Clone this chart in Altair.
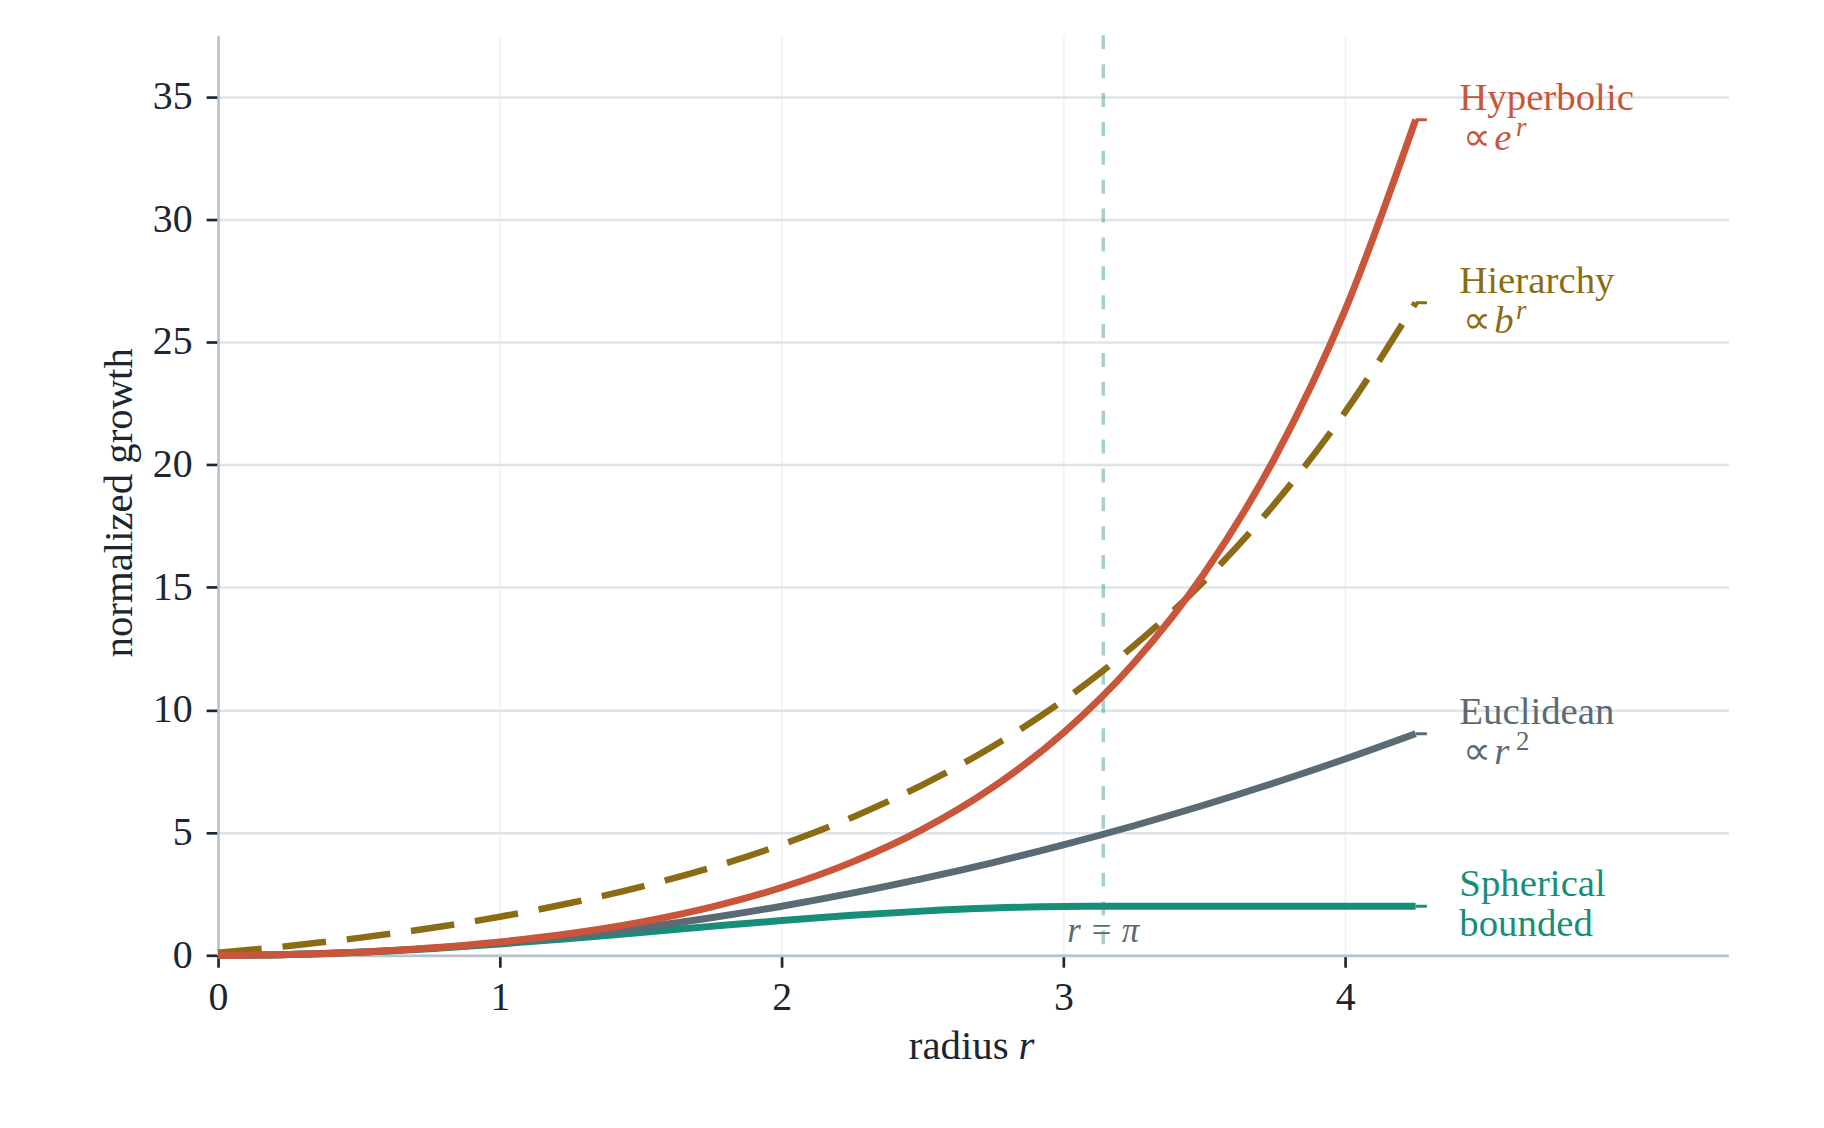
import altair as alt
import pandas as pd

# ---- data ----
R = [0.0, 0.25, 0.5, 0.75, 1.0, 1.25, 1.5, 1.75, 2.0, 2.25, 2.5, 2.75,
     3.0, 3.25, 3.5, 3.75, 4.0, 4.25]
HYPERBOLIC = [0.0, 0.031, 0.128, 0.295, 0.543, 0.888, 1.352, 1.964, 2.762,
              3.797, 5.132, 6.853, 9.068, 11.914, 15.573, 20.272, 26.308, 34.06]
HIERARCHY = [0.10, 0.38, 0.71, 1.10, 1.57, 2.13, 2.79, 3.57, 4.51, 5.62,
             6.95, 8.52, 10.39, 12.62, 15.26, 18.41, 22.15, 26.60]
EUCLIDEAN = [0.0, 0.031, 0.125, 0.281, 0.5, 0.781, 1.125, 1.531, 2.0,
             2.531, 3.125, 3.781, 4.5, 5.281, 6.125, 7.031, 8.0, 9.031]
SPHERICAL = [0.0, 0.031, 0.122, 0.268, 0.460, 0.685, 0.929, 1.178, 1.416,
             1.628, 1.801, 1.924, 1.990, 2.0, 2.0, 2.0, 2.0, 2.0]

SERIES = ["Spherical", "Euclidean", "Hierarchy", "Hyperbolic"]  # draw order
VALUES = {"Spherical": SPHERICAL, "Euclidean": EUCLIDEAN,
          "Hierarchy": HIERARCHY, "Hyperbolic": HYPERBOLIC}
COLORS = {"Spherical": "#178f78", "Euclidean": "#5b6b75",
          "Hierarchy": "#8b6c14", "Hyperbolic": "#c9563a"}
DASHES = {"Hierarchy": [44, 21]}
LINE1 = {"Spherical": "Spherical", "Euclidean": "Euclidean",
         "Hierarchy": "Hierarchy", "Hyperbolic": "Hyperbolic"}
LINE2_PLAIN = {"Spherical": "bounded"}
MATH_VAR = {"Euclidean": "r", "Hierarchy": "b", "Hyperbolic": "e"}
MATH_SUP = {"Euclidean": "2", "Hierarchy": "r", "Hyperbolic": "r"}
SUP_ITALIC = {"Euclidean": False, "Hierarchy": True, "Hyperbolic": True}

X_TICKS = [0, 1, 2, 3, 4]
Y_TICKS = [0, 5, 10, 15, 20, 25, 30, 35]
X_DOMAIN = [0, 5.36]
Y_DOMAIN = [0, 37.5]
PI = 3.14159
LABEL_R = 4.405
STUB_R = 4.29

FONT = "Liberation Serif"
DARK = "#1b2631"

# ---- scales / axes ----
x_axis = alt.Axis(values=X_TICKS, title=None, grid=True, gridColor="#f1f3f5",
                  gridWidth=2, labelFlush=False, labelPadding=10, format="d")
y_axis = alt.Axis(values=Y_TICKS, title="normalized growth", grid=True,
                  gridColor="#dde4e9", gridWidth=2.5, labelFlush=False,
                  labelPadding=14, format="d", titleX=-87, titleY=469,
                  titleAngle=270, titleAlign="center", titleBaseline="alphabetic")


def xenc(field):
    return alt.X(f"{field}:Q", scale=alt.Scale(domain=X_DOMAIN, nice=False, zero=False),
                 axis=x_axis)


def yenc(field):
    return alt.Y(f"{field}:Q", scale=alt.Scale(domain=Y_DOMAIN, nice=False, zero=False),
                 axis=y_axis)


rows = []
for s in SERIES:
    for r, v in zip(R, VALUES[s]):
        rows.append({"series": s, "r": r, "value": v})
df = pd.DataFrame(rows)

layers = []

# r = pi reference line
pi_df = pd.DataFrame({"r": [PI], "top": [Y_DOMAIN[1]], "bottom": [0.0], "lab": ["r = π"]})
layers.append(
    alt.Chart(pi_df).mark_rule(color=COLORS["Spherical"], opacity=0.4, strokeWidth=3.5,
                               strokeDash=[14, 15])
    .encode(x=xenc("r"), y=yenc("top"), y2="bottom:Q")
)
layers.append(
    alt.Chart(pi_df).mark_text(font=FONT, fontSize=35, fontStyle="italic", color="#5b6b75",
                               align="center", baseline="alphabetic", dy=-13)
    .encode(x=xenc("r"), y=yenc("bottom"), text="lab:N")
)

# curves
for s in SERIES:
    kw = dict(color=COLORS[s], strokeWidth=7, interpolate="monotone", strokeCap="butt",
              strokeJoin="round")
    if s in DASHES:
        kw["strokeDash"] = DASHES[s]
        kw["strokeWidth"] = 6.5
    layers.append(
        alt.Chart(df).transform_filter(alt.datum.series == s).mark_line(**kw)
        .encode(x=xenc("r"), y=yenc("value"))
    )

# end stubs and labels
for s in SERIES:
    end_df = pd.DataFrame({"r": [R[-1]], "r2": [STUB_R], "rl": [LABEL_R],
                           "value": [VALUES[s][-1]], "l1": [LINE1[s]]})
    c = COLORS[s]
    layers.append(
        alt.Chart(end_df).mark_rule(color=c, strokeWidth=3)
        .encode(x=xenc("r"), x2="r2:Q", y=yenc("value"))
    )
    layers.append(
        alt.Chart(end_df).mark_text(font=FONT, fontSize=39, color=c, align="left",
                                    baseline="alphabetic", dy=-10)
        .encode(x=xenc("rl"), y=yenc("value"), text="l1:N")
    )
    if s in LINE2_PLAIN:
        d2 = end_df.assign(l2=LINE2_PLAIN[s])
        layers.append(
            alt.Chart(d2).mark_text(font=FONT, fontSize=39, color=c, align="left",
                                    baseline="alphabetic", dy=30)
            .encode(x=xenc("rl"), y=yenc("value"), text="l2:N")
        )
    else:
        d2 = end_df.assign(sym="∝", var=MATH_VAR[s], sup=MATH_SUP[s])
        layers.append(
            alt.Chart(d2).mark_text(font=FONT, fontSize=39, color=c, align="left",
                                    baseline="alphabetic", dy=30, dx=4)
            .encode(x=xenc("rl"), y=yenc("value"), text="sym:N")
        )
        layers.append(
            alt.Chart(d2).mark_text(font=FONT, fontSize=39, fontStyle="italic", color=c,
                                    align="left", baseline="alphabetic", dy=30, dx=35)
            .encode(x=xenc("rl"), y=yenc("value"), text="var:N")
        )
        sup_kw = dict(font=FONT, fontSize=27, color=c, align="left",
                      baseline="alphabetic", dy=16, dx=57)
        if SUP_ITALIC[s]:
            sup_kw["fontStyle"] = "italic"
        layers.append(
            alt.Chart(d2).mark_text(**sup_kw)
            .encode(x=xenc("rl"), y=yenc("value"), text="sup:N")
        )

# x-axis title: "radius" + italic "r"
xt = pd.DataFrame({"a": ["radius"], "b": ["r"]})
layers.append(
    alt.Chart(xt).mark_text(font=FONT, fontSize=41, color=DARK, align="right",
                            baseline="alphabetic")
    .encode(x=alt.value(794), y=alt.value(1028), text="a:N")
)
layers.append(
    alt.Chart(xt).mark_text(font=FONT, fontSize=41, fontStyle="italic", color=DARK,
                            align="left", baseline="alphabetic")
    .encode(x=alt.value(804), y=alt.value(1028), text="b:N")
)

chart = (
    alt.layer(*layers)
    .properties(width=1517, height=924,
                autosize=alt.AutoSizeParams(type="none"),
                padding={"left": 211, "top": 25, "right": 88, "bottom": 171},
                background="white")
    .configure_view(stroke=None)
    .configure_axis(labelFont=FONT, labelFontSize=40, labelColor=DARK,
                    domainColor="#b8c4cc", domainWidth=2.7,
                    tickColor=DARK, tickWidth=2.7, tickSize=12,
                    titleFont=FONT, titleFontSize=41, titleFontWeight="normal",
                    titleColor=DARK)
)

chart.save("out.html", embed_options={"renderer": "svg", "actions": False})
